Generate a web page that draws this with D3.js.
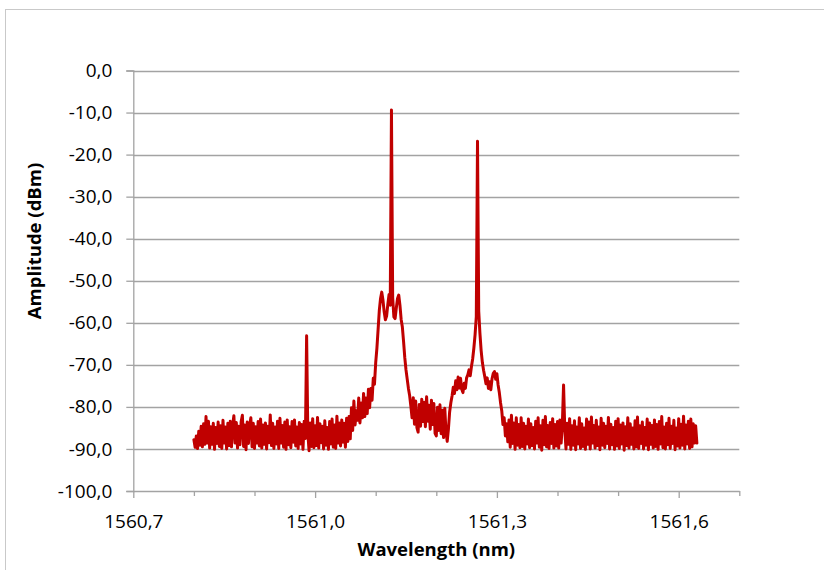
<!DOCTYPE html>
<html>
<head>
<meta charset="utf-8">
<script src="https://cdn.jsdelivr.net/npm/d3@7"></script>
<style>
  html, body { margin: 0; padding: 0; background: #ffffff; }
  svg { display: block; }
</style>
</head>
<body>
<svg id="chart" width="824" height="570"></svg>
<script>
// ---------------- data ----------------
// OSA trace: uniform sampling grid
const wlStart = 1560.800;   // nm, first sample
const wlStep = 0.002;       // nm between samples

// amplitude (dBm), segment by segment
const ampFloorLeft = [
  -87.8,-89.6,-86.9,-89.9,-85.8,-89.1,-84.6,-89.5,-84.0,-88.9,
  -82.3,-88.6,-83.4,-89.8,-84.7,-88.9,-83.9,-90.1,-84.9,-88.7,
  -83.6,-89.4,-84.5,-89.9,-83.2,-88.6,-84.8,-90.0,-83.9,-89.2,
  -83.4,-89.5,-84.2,-82.1,-88.6,-83.7,-89.8,-84.6,-89.0,-83.5,
  -82.0,-89.4,-84.3,-90.2,-83.6,-88.7,-84.4,-82.6,-89.5,-83.9,
  -89.9,-84.7,-88.6,-83.5,-89.3,-82.9,-89.8,-84.3,-88.9,-83.8,
  -90.0,-84.6,-88.5,-81.9,-89.2,-83.9,-89.9,-84.8,-88.8,-83.4,
  -89.9,-82.7,-88.6,-84.4,-89.6,-83.6,-90.1,-83.1,-89.0,-84.7,
  -89.7,-83.5,-88.4,-83.1,-89.3,-84.8,-89.9,-83.7,-88.8,-84.2,
  -90.1,-83.4,-87.5,-63.1,-86.2,-90.4,-83.8,-89.4,-82.8,-89.7,
  -84.5,-89.2,-82.5,-89.8,-84.0,-88.5,-84.6,-90.0,-83.3,-89.1,
  -84.9,-90.1,-83.5,-88.8,-82.9,-89.6,-84.3,-89.9,-82.2,-88.6,
  -83.8,-89.3,-83.1,-88.4,-83.9,-89.6,-82.7,-88.2,-82.3,-87.6
];
const ampPeakA = [
  -80.2,-85.6,-78.6,-84.3,-80.9,-83.2,-77.9,-83.8,-79.1,-82.6,
  -76.8,-82.3,-77.9,-81.6,-75.8,-80.2,-75.6,-78.4,-73.2,-74.6,
  -69.5,-66.0,-61.5,-57.0,-54.2,-52.7,-54.6,-57.4,-59.3,-58.4,
  -55.6,-53.3,-55.8,-9.4,-54.0,-58.6,-59.0,-56.5,-54.2,-53.4,
  -55.8,-59.2,-61.0,-64.5,-68.3,-71.2,-73.4,-75.6,-77.3,-79.8
];
const ampValley = [
  -82.6,-77.8,-84.1,-78.6,-84.9,-86.0,-79.4,-84.6,-78.2,-83.5,
  -78.9,-84.7,-77.6,-83.4,-79.6,-85.3,-78.4,-84.2,-79.2,-86.3,
  -86.9,-80.1,-85.6,-79.5,-86.4,-80.8,-87.3,-80.3,-85.9,-88.2
];
const ampPeakB = [
  -85.3,-81.2,-79.0,-77.4,-75.3,-76.8,-73.8,-75.9,-72.9,-75.5,
  -73.2,-75.8,-76.6,-74.4,-75.6,-73.1,-72.4,-71.2,-72.6,-70.4,
  -68.6,-66.0,-62.8,-58.5,-16.8,-57.2,-62.5,-66.6,-69.4,-71.3,
  -72.8,-74.5,-73.1,-75.6,-74.0,-75.9,-73.3,-72.0,-71.6,-73.4,
  -72.1,-74.8,-76.6,-79.0,-80.9,-84.2,-82.6,-86.9,-84.0,-88.3
];
const ampFloorRight = [
  -83.1,-89.6,-82.0,-88.7,-83.8,-90.1,-82.6,-89.1,-84.2,-89.7,
  -82.6,-89.4,-83.9,-90.0,-84.6,-88.8,-82.9,-89.7,-84.0,-89.2,
  -84.9,-90.0,-83.4,-88.6,-82.6,-89.6,-84.5,-90.3,-83.2,-89.0,
  -82.3,-89.5,-84.4,-89.9,-83.7,-88.7,-82.8,-89.8,-84.2,-89.3,
  -83.5,-89.8,-83.1,-88.6,-84.1,-74.8,-85.2,-90.0,-83.9,-88.9,
  -82.8,-90.1,-84.5,-89.1,-83.3,-90.2,-84.8,-88.8,-82.6,-89.9,
  -84.0,-89.4,-85.0,-90.1,-82.9,-88.9,-83.6,-90.0,-82.4,-88.6,
  -84.4,-89.8,-83.2,-89.2,-84.8,-90.2,-82.7,-89.1,-83.9,-89.7,
  -84.6,-88.7,-82.5,-90.0,-84.1,-89.0,-84.9,-90.1,-83.4,-89.3,
  -82.8,-89.9,-84.3,-88.8,-83.8,-90.3,-84.7,-89.2,-82.6,-89.8,
  -84.0,-88.9,-85.0,-90.0,-83.3,-89.5,-82.4,-89.9,-84.5,-88.7,
  -83.6,-90.0,-84.9,-89.1,-82.9,-90.2,-83.8,-88.9,-84.4,-89.8,
  -83.1,-89.4,-84.2,-90.1,-83.5,-88.8,-82.3,-89.7,-84.8,-90.0,
  -83.9,-89.0,-82.7,-89.9,-84.6,-88.7,-83.2,-90.2,-85.0,-89.3,
  -82.8,-89.8,-84.1,-89.1,-82.2,-90.0,-84.3,-88.8,-83.4,-89.9,
  -82.9,-89.5,-84.0,-88.6,-84.5,-88.6
];

// axis ticks
const yTicks = [0, -10, -20, -30, -40, -50, -60, -70, -80, -90, -100];
const xMajorTicks = [1560.7, 1561.0, 1561.3, 1561.6];
const xMinorTicks = [1560.8, 1560.9, 1561.1, 1561.2, 1561.4, 1561.5, 1561.7];
const xDomain = [1560.7, 1561.7];
const yDomain = [-100, 0];
const xTitle = "Wavelength (nm)";
const yTitle = "Amplitude (dBm)";

// ---------------- build ----------------
const amplitude = [].concat(ampFloorLeft, ampPeakA, ampValley, ampPeakB, ampFloorRight);
const trace = amplitude.map((a, i) => ({ wl: wlStart + i * wlStep, amp: a }));

const locale = d3.formatLocale({ decimal: ",", thousands: ".", grouping: [3], currency: ["", ""], minus: "-" });
const fmt = locale.format(".1f");

const svg = d3.select("#chart");
const plot = { left: 133.3, right: 739.3, top: 70.5, bottom: 491 };

const x = d3.scaleLinear().domain(xDomain).range([plot.left, plot.right]);
const y = d3.scaleLinear().domain(yDomain).range([plot.bottom, plot.top]);

const FONT = "'Open Sans', 'DejaVu Sans', sans-serif";
const GRID = "#a3a3a3";

// outer chart border
svg.append("rect")
  .attr("x", 5.5).attr("y", 9.5).attr("width", 900).attr("height", 700)
  .attr("fill", "#ffffff").attr("stroke", "#c9c9c9").attr("stroke-width", 1);

// gridlines
svg.append("g")
  .selectAll("line")
  .data(yTicks.filter(t => t !== -100))
  .join("line")
  .attr("x1", plot.left).attr("x2", plot.right)
  .attr("y1", d => Math.round(y(d)) + 0.5).attr("y2", d => Math.round(y(d)) + 0.5)
  .attr("stroke", GRID).attr("stroke-width", 1.3);

// y axis
const yAxis = d3.axisLeft(y).tickValues(yTicks).tickFormat(fmt).tickSize(7).tickPadding(14);
const gy = svg.append("g").attr("transform", `translate(${plot.left},0)`).call(yAxis);
gy.select(".domain").attr("stroke", GRID).attr("stroke-width", 1.3);
gy.selectAll(".tick line").attr("stroke", GRID).attr("stroke-width", 1.3);
gy.selectAll(".tick text").attr("font-family", FONT).attr("font-size", 19).attr("fill", "#000");

// x axis: minor ticks
const gxMinor = svg.append("g").attr("transform", `translate(0,${plot.bottom})`)
  .call(d3.axisBottom(x).tickValues(xMinorTicks).tickSize(5).tickFormat(""));
gxMinor.select(".domain").remove();
gxMinor.selectAll(".tick line").attr("stroke", GRID).attr("stroke-width", 1.3);

// x axis: major ticks + labels
const gx = svg.append("g").attr("transform", `translate(0,${plot.bottom})`)
  .call(d3.axisBottom(x).tickValues(xMajorTicks).tickFormat(fmt).tickSizeInner(7).tickSizeOuter(0));
gx.select(".domain").attr("stroke", GRID).attr("stroke-width", 1.3);
gx.selectAll(".tick line").attr("stroke", GRID).attr("stroke-width", 1.3);
gx.selectAll(".tick text").attr("font-family", FONT).attr("font-size", 19).attr("fill", "#000")
  .attr("y", 24).attr("dy", "0.71em");

// trace
const line = d3.line().x(d => x(d.wl)).y(d => y(d.amp));
svg.append("path")
  .datum(trace)
  .attr("d", line)
  .attr("fill", "none")
  .attr("stroke", "#c00000")
  .attr("stroke-width", 3)
  .attr("stroke-linejoin", "round")
  .attr("stroke-linecap", "round");

// axis titles
svg.append("text")
  .attr("x", (plot.left + plot.right) / 2).attr("y", 556)
  .attr("text-anchor", "middle")
  .attr("font-family", FONT).attr("font-weight", "bold").attr("font-size", 18.5)
  .attr("fill", "#000")
  .text(xTitle);

svg.append("text")
  .attr("transform", "translate(41,241) rotate(-90)")
  .attr("text-anchor", "middle")
  .attr("font-family", FONT).attr("font-weight", "bold").attr("font-size", 18.5)
  .attr("fill", "#000")
  .text(yTitle);
</script>
</body>
</html>
